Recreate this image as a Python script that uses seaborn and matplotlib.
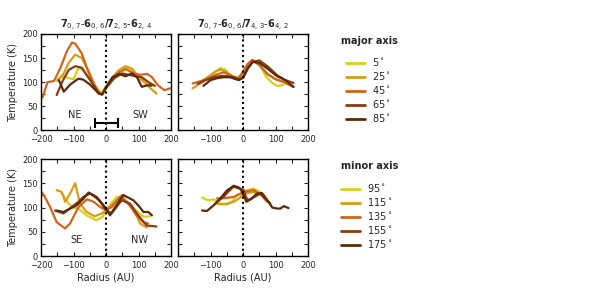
import numpy as np
import pandas as pd
import matplotlib
matplotlib.use("Agg")
import matplotlib.pyplot as plt
import seaborn as sns
from matplotlib.ticker import MultipleLocator
from matplotlib.lines import Line2D

sns.set_style("ticks")
plt.rcParams['font.family'] = ['DejaVu Sans']

# ---------------- data ----------------
major_angles = ["5", "25", "45", "65", "85"]
minor_angles = ["95", "115", "135", "155", "175"]
colors = ["#d4d21c", "#d89c16", "#d0651c", "#8a3c10", "#5a2a0a"]

# top-left: major axis, 7_07-6_06 / 7_25-6_24
maj1_r = {
    "5":  [-150, -130, -115, -100, -85, -70, -50, -30, -15, 0, 20, 40, 60, 80, 100, 120, 140],
    "25": [-150, -130, -115, -95, -75, -55, -35, -20, -10, 0, 20, 40, 60, 80, 100, 120, 140, 155],
    "45": [-195, -180, -160, -140, -120, -105, -95, -75, -55, -35, -22, -12, 0, 20, 40, 60, 85, 105, 125, 140, 160, 180, 197],
    "65": [-152, -135, -115, -95, -75, -55, -35, -22, -12, 0, 25, 50, 70, 90, 110, 130, 150],
    "85": [-145, -130, -110, -85, -70, -50, -35, -22, -12, 0, 20, 40, 60, 80, 95, 110, 125, 140],
}
maj1_t = {
    "5":  [105, 112, 108, 106, 130, 124, 106, 88, 78, 90, 110, 124, 128, 125, 110, 100, 92],
    "25": [102, 118, 140, 157, 150, 125, 95, 78, 76, 88, 110, 125, 133, 128, 110, 98, 85, 76],
    "45": [68, 100, 102, 130, 165, 182, 180, 160, 122, 90, 77, 75, 87, 105, 120, 127, 118, 115, 117, 111, 93, 83, 87],
    "65": [73, 100, 125, 133, 130, 110, 90, 76, 74, 88, 108, 118, 115, 112, 110, 100, 92],
    "85": [104, 80, 95, 107, 105, 95, 85, 76, 74, 90, 110, 117, 112, 118, 110, 90, 93, 93],
}

# top-right: major axis, 7_07-6_06 / 7_43-6_42
maj2_r = {
    "5":  [-130, -110, -90, -70, -55, -40, -25, -10, 0, 15, 30, 50, 70, 90, 105, 125],
    "25": [-155, -130, -105, -85, -70, -50, -30, -18, 0, 15, 30, 50, 75, 100, 125, 150],
    "45": [-155, -130, -105, -80, -60, -40, -25, -15, 0, 15, 28, 50, 75, 100, 125, 155],
    "65": [-140, -115, -90, -65, -45, -25, -15, 0, 15, 30, 50, 75, 105, 130, 155],
    "85": [-122, -100, -80, -60, -40, -22, -12, 0, 15, 30, 50, 75, 105, 130, 155],
}
maj2_t = {
    "5":  [100, 110, 118, 129, 126, 115, 110, 112, 122, 138, 146, 138, 112, 98, 92, 94],
    "25": [87, 98, 112, 122, 126, 120, 108, 106, 120, 138, 146, 136, 116, 106, 100, 92],
    "45": [97, 102, 108, 116, 120, 115, 108, 105, 122, 138, 146, 135, 117, 106, 100, 90],
    "65": [96, 104, 110, 113, 112, 110, 106, 108, 128, 142, 145, 133, 114, 104, 98],
    "85": [92, 104, 108, 110, 110, 106, 104, 110, 130, 142, 140, 128, 112, 104, 90],
}

# bottom-left: minor axis, 7_07-6_06 / 7_25-6_24
min1_r = {
    "95":  [-136, -128, -115, -100, -85, -60, -30, -10, 0, 15, 33, 53, 70, 85, 100, 115, 135],
    "115": [-152, -136, -126, -110, -95, -80, -60, -35, -13, 0, 15, 28, 48, 65, 80, 95, 105, 125],
    "135": [-198, -185, -172, -152, -126, -111, -85, -59, -38, -18, 0, 17, 43, 64, 80, 94, 115, 130],
    "155": [-157, -131, -106, -85, -70, -49, -30, -18, 0, 17, 48, 74, 99, 125, 140, 155],
    "175": [-152, -131, -110, -90, -70, -54, -29, -8, 0, 12, 28, 53, 84, 100, 115, 130, 141],
}
min1_t = {
    "95":  [129, 122, 108, 100, 98, 84, 74, 81, 95, 108, 122, 119, 108, 98, 90, 81, 82],
    "115": [136, 132, 112, 130, 150, 108, 91, 82, 88, 95, 104, 112, 126, 110, 98, 82, 67, 59],
    "135": [132, 118, 101, 70, 57, 67, 101, 117, 112, 101, 95, 101, 122, 112, 98, 84, 70, 67],
    "155": [94, 88, 101, 112, 122, 129, 120, 112, 95, 88, 115, 108, 84, 63, 62, 61],
    "175": [94, 91, 98, 105, 118, 131, 122, 105, 98, 84, 101, 126, 115, 104, 91, 91, 84],
}

# bottom-right: minor axis, 7_07-6_06 / 7_43-6_42
min2_r = {
    "95":  [-126, -115, -106, -90, -80, -70, -50, -34, -18, 0, 12, 33, 53, 69],
    "115": [-80, -65, -50, -29, -10, 2, 15, 33, 50, 64],
    "135": [-80, -70, -50, -29, -10, 2, 15, 33, 55, 74],
    "155": [-80, -60, -45, -29, -15, 2, 10, 17, 35, 53, 70, 84],
    "175": [-126, -111, -90, -70, -50, -29, -15, -8, 2, 10, 25, 43, 58, 75, 90, 105, 115, 125, 140],
}
min2_t = {
    "95":  [121, 117, 115, 117, 113, 108, 108, 112, 126, 132, 136, 139, 132, 122],
    "115": [108, 107, 107, 112, 120, 129, 130, 132, 128, 126],
    "135": [119, 119, 120, 122, 128, 132, 134, 136, 126, 112],
    "155": [112, 122, 133, 143, 140, 136, 120, 115, 122, 129, 118, 108],
    "175": [94, 93, 105, 119, 135, 145, 142, 139, 125, 112, 118, 129, 130, 115, 100, 98, 98, 103, 99],
}

# ---------------- build long tables ----------------
def long_table(rdict, tdict, angles):
    rows = []
    for a in angles:
        for r, t in zip(rdict[a], tdict[a]):
            rows.append({"angle": a, "r": r, "T": t})
    return pd.DataFrame(rows)

panels = [
    (long_table(maj1_r, maj1_t, major_angles), major_angles),
    (long_table(maj2_r, maj2_t, major_angles), major_angles),
    (long_table(min1_r, min1_t, minor_angles), minor_angles),
    (long_table(min2_r, min2_t, minor_angles), minor_angles),
]

# ---------------- figure ----------------
fig = plt.figure(figsize=(5.98, 2.93), dpi=100)
boxes = [
    [0.0686, 0.556, 0.2175, 0.328],
    [0.2977, 0.556, 0.2175, 0.328],
    [0.0686, 0.126, 0.2175, 0.331],
    [0.2977, 0.126, 0.2175, 0.331],
]
axes = [fig.add_axes(b) for b in boxes]

title1 = r"$\mathbf{7}_{0,\,7}\mathbf{\text{-}6}_{0,\,6}\mathbf{/7}_{2,\,5}\mathbf{\text{-}6}_{2,\,4}$"
title2 = r"$\mathbf{7}_{0,\,7}\mathbf{\text{-}6}_{0,\,6}\mathbf{/7}_{4,\,3}\mathbf{\text{-}6}_{4,\,2}$"

for i, (ax, (df, angles)) in enumerate(zip(axes, panels)):
    pal = dict(zip(angles, colors))
    sns.lineplot(data=df, x="r", y="T", hue="angle", hue_order=angles,
                 palette=pal, sort=False, estimator=None, lw=1.6,
                 legend=False, ax=ax)
    ax.axvline(0, color="black", ls=(0, (1, 1.5)), lw=1.5)
    ax.set_xlim(-200, 200)
    ax.set_ylim(0, 200)
    ax.xaxis.set_major_locator(MultipleLocator(100))
    ax.xaxis.set_minor_locator(MultipleLocator(50))
    ax.yaxis.set_major_locator(MultipleLocator(50))
    ax.yaxis.set_minor_locator(MultipleLocator(25))
    ax.tick_params(which="both", direction="in", top=True, right=True,
                   length=3, width=0.8, labelsize=6)
    ax.tick_params(axis="y", pad=2)
    ax.tick_params(axis="x", pad=3.5)
    for s in ax.spines.values():
        s.set_linewidth(1.0)
        s.set_color("black")
    ax.set_xlabel("")
    ax.set_ylabel("")
    if i % 2 == 0:
        ax.set_ylabel("Temperature (K)", fontsize=7, labelpad=3)
    else:
        ax.set_yticklabels([])
        ax.set_xticks([-100, 0, 100, 200])
        ax.set_xticklabels(["\u2212100", "0", "100", "200"])
    if i >= 2:
        ax.set_xlabel("Radius (AU)", fontsize=7, labelpad=2)

axes[0].set_title(title1, fontsize=7, pad=4)
axes[1].set_title(title2, fontsize=7, pad=4)

axes[0].text(-95, 22, "NE", ha="center", va="bottom", fontsize=7)
axes[0].text(105, 22, "SW", ha="center", va="bottom", fontsize=7)
axes[2].text(-90, 22, "SE", ha="center", va="bottom", fontsize=7)
axes[2].text(103, 22, "NW", ha="center", va="bottom", fontsize=7)
axes[0].errorbar([2], [14], xerr=[36], color="black", lw=1.5,
                 capsize=3.5, capthick=1.5)

# legends
def add_legend(angles, title, title_y, entries_top, entries_x):
    fig.text(0.570, title_y, title, fontsize=7, fontweight="bold",
             ha="left", va="center")
    handles = [Line2D([0], [0], color=c, lw=2) for c in colors]
    labels = [a + r"$^\circ$" for a in angles]
    fig.legend(handles, labels, loc="upper left",
               bbox_to_anchor=(entries_x, entries_top), frameon=False,
               fontsize=7, handlelength=2.0, handletextpad=0.7,
               labelspacing=0.2, borderaxespad=0, borderpad=0)

add_legend(major_angles, "major axis", 1 - 40.7 / 293, 1 - 56.5 / 293, 0.578)
add_legend(minor_angles, "minor axis", 1 - 166 / 293, 1 - 182.5 / 293, 0.570)

fig.savefig("out.png", dpi=100)
